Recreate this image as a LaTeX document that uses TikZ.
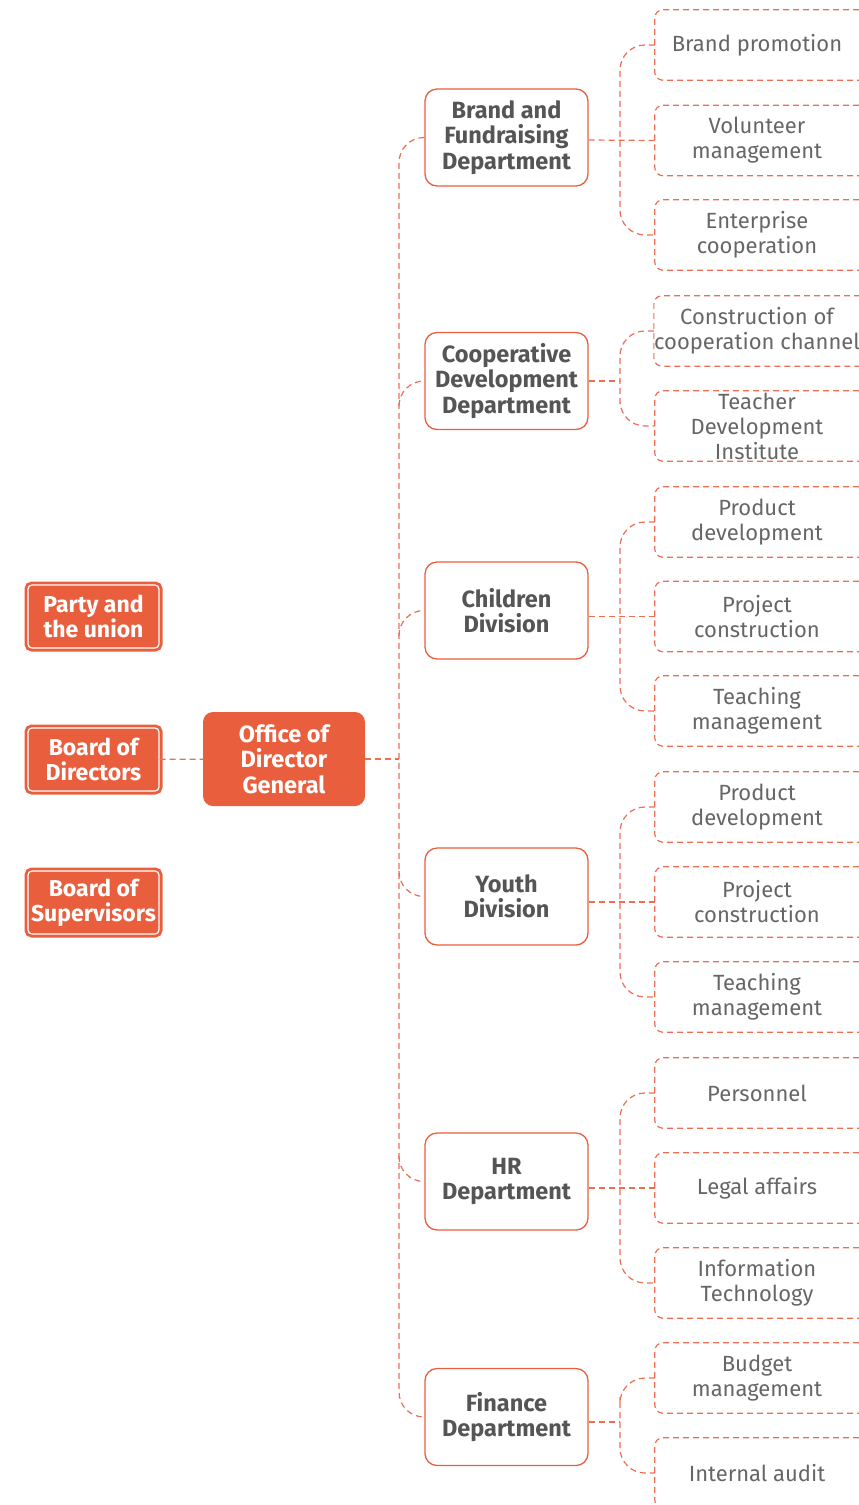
\documentclass[tikz,border=0pt]{standalone}
\usepackage{fontspec}
\setmainfont{Fira Sans}
\definecolor{org}{HTML}{E95F3E}
\definecolor{lineorg}{HTML}{EC6E54}
\definecolor{txt}{HTML}{555555}
\definecolor{leaftxt}{HTML}{666666}
\newcommand{\lbox}[1]{\draw[conn, rounded corners=8pt] ([xshift=40pt]#1.north east) -- (#1.north west) -- (#1.south west) -- ([xshift=40pt]#1.south east);}
\begin{document}
\begin{tikzpicture}[x=1pt,y=1pt,
 conn/.style={draw=lineorg, line width=1.2pt, dash pattern=on 6pt off 4pt},
 side/.style={fill=org, draw=white, line width=1.2pt, rounded corners=4pt, preaction={draw=org, line width=7pt}, text=white, font=\bfseries\fontsize{23}{25}\selectfont, align=center, minimum width=131pt, minimum height=63pt, inner sep=0pt},
 office/.style={fill=org, rounded corners=10pt, text=white, font=\bfseries\fontsize{23.5}{25.5}\selectfont, align=center, minimum width=162pt, minimum height=94pt, inner sep=0pt},
 dept/.style={draw=org, line width=1.3pt, fill=white, rounded corners=12pt, text=txt, font=\bfseries\fontsize{23.5}{25.5}\selectfont, align=center, minimum width=163pt, minimum height=97pt, inner sep=0pt},
 leaf/.style={text=leaftxt, font=\fontsize{22}{25}\selectfont, align=center, minimum width=204pt, minimum height=70pt, inner sep=0pt}
]
\clip (0,0) rectangle (859,-1505);
% left side
\node[side] (party) at (93.5,-616.5) {Party and\\the union};
\node[side] (board) at (93.5,-759.5) {Board of\\Directors};
\node[side] (super) at (93.5,-902.5) {Board of\\Supervisors};
\node[office] (office) at (284,-759) {Office of\\Director\\General};
% departments
\node[dept] (brand) at (506.5,-137.5) {Brand and\\Fundraising\\Department};
\node[dept] (coop) at (506.5,-381) {Cooperative\\Development\\Department};
\node[dept] (child) at (506.5,-610.5) {Children\\Division};
\node[dept] (youth) at (506.5,-896.5) {Youth\\Division};
\node[dept] (hr) at (506.5,-1181.5) {HR\\Department};
\node[dept] (fin) at (506.5,-1417) {Finance\\Department};
% leaves
\node[leaf] (l1) at (757,-45) {Brand promotion};
\node[leaf] (l2) at (757,-140.5) {Volunteer\\management};
\node[leaf] (l3) at (757,-235) {Enterprise\\cooperation};
\node[leaf] (l4) at (757,-331) {Construction of\\cooperation channel};
\node[leaf] (l5) at (757,-426) {\fontsize{22}{20}\selectfont Teacher\\Development\\Institute};
\node[leaf] (l6) at (757,-522) {Product\\development};
\node[leaf] (l7) at (757,-616.5) {Project\\construction};
\node[leaf] (l8) at (757,-711) {Teaching\\management};
\node[leaf] (l9) at (757,-807) {Product\\development};
\node[leaf] (l10) at (757,-902) {Project\\construction};
\node[leaf] (l11) at (757,-997) {Teaching\\management};
\node[leaf] (l12) at (757,-1093) {Personnel};
\node[leaf] (l13) at (757,-1188) {Legal affairs};
\node[leaf] (l14) at (757,-1283) {Information\\Technology};
\node[leaf] (l15) at (757,-1378) {Budget\\management};
\node[leaf] (l16) at (757,-1473) {Internal audit};
\foreach \n in {l1,l2,l3,l4,l5,l6,l7,l8,l9,l10,l11,l12,l13,l14,l15,l16} {\lbox{\n}}
% trunk
\coordinate (tr) at (399,-759);
\coordinate (tcoop) at (399,-406);
\coordinate (tchild) at (399,-636);
\coordinate (tyouth) at (399,-871);
\coordinate (thr) at (399,-1156);
\draw[conn] (board) -- (office);
\draw[conn] (office) -- (tr);
\draw[conn, rounded corners=25pt] (brand.west) -| (tr) |- (fin.west);
\draw[conn, rounded corners=25pt] (tcoop) |- (coop.west);
\draw[conn, rounded corners=25pt] (tchild) |- (child.west);
\draw[conn, rounded corners=25pt] (tyouth) |- (youth.west);
\draw[conn, rounded corners=25pt] (thr) |- (hr.west);
% brackets
\coordinate (b1) at (620,-140);
\coordinate (b2) at (620,-381);
\coordinate (b3) at (620,-616.5);
\coordinate (b4) at (620,-902);
\coordinate (b5) at (620,-1188);
\coordinate (b6) at (620,-1422);
\draw[conn] (brand.east |- b1) -- (l2.west);
\draw[conn, rounded corners=25pt] (l1.west) -| (b1) |- (l3.west);
\draw[conn] (coop.east) -- (b2);
\draw[conn, rounded corners=25pt] (l4.west) -| (b2) |- (l5.west);
\draw[conn] (child.east |- b3) -- (l7.west);
\draw[conn, rounded corners=25pt] (l6.west) -| (b3) |- (l8.west);
\draw[conn] (youth.east |- b4) -- (l10.west);
\draw[conn, rounded corners=25pt] (l9.west) -| (b4) |- (l11.west);
\draw[conn] (hr.east |- b5) -- (l13.west);
\draw[conn, rounded corners=25pt] (l12.west) -| (b5) |- (l14.west);
\draw[conn] (fin.east |- b6) -- (b6);
\draw[conn, rounded corners=25pt] (l15.west) -| (b6) |- (l16.west);
\end{tikzpicture}
\end{document}
